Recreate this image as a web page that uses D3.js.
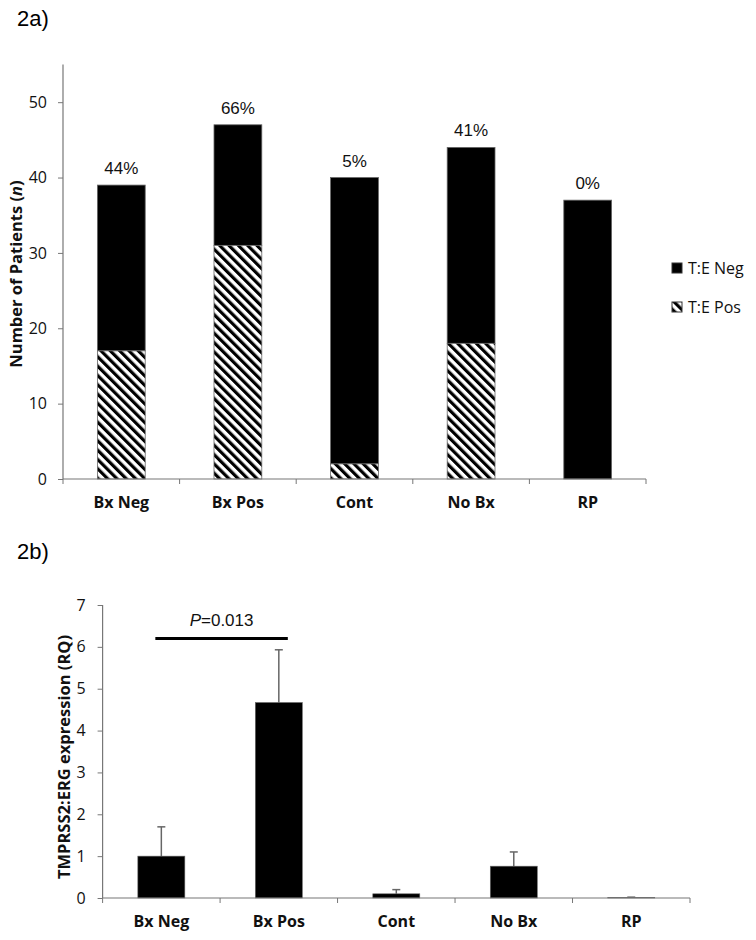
<!DOCTYPE html>
<html><head><meta charset="utf-8">
<script src="https://cdn.jsdelivr.net/npm/d3@7"></script>
<style>
body{margin:0;background:#fff;}
svg{display:block;}
.cal{font-family:"Open Sans","Liberation Sans",sans-serif;}
.ari{font-family:"Liberation Sans",Arial,sans-serif;}
</style></head>
<body><svg id="c" width="756" height="940"></svg>
<script>
// ---- data ----
const categories = ["Bx Neg","Bx Pos","Cont","No Bx","RP"];
const tePos = [17,31,2,18,0];
const teNeg = [22,16,38,26,37];
const pctLabels = ["44%","66%","5%","41%","0%"];
const topTicks = [0,10,20,30,40,50];
const rqMean = [1.0,4.67,0.1,0.76,0.01];
const rqErr = [0.7,1.26,0.1,0.34,0.01];
const bottomTicks = [0,1,2,3,4,5,6,7];
const pValueText = "=0.013";
const pLineLevel = 6.2;

const svg = d3.select("#c");
const defs = svg.append("defs");
const pat = defs.append("pattern").attr("id","hatch").attr("patternUnits","userSpaceOnUse")
  .attr("width",6.6).attr("height",6.6).attr("patternTransform","rotate(-45)");
pat.append("rect").attr("width",6.6).attr("height",6.6).attr("fill","#fff");
pat.append("rect").attr("x",0).attr("y",0).attr("width",3.2).attr("height",6.6).attr("fill","#000");

const axisColor = "#777";

// ---------- Chart 2a ----------
svg.append("text").attr("class","ari").attr("x",17).attr("y",26).attr("font-size",22).text("2a)");

const x1 = d3.scaleBand().domain(categories).range([63,646]).paddingInner(0.59).paddingOuter(0.295);
const y1 = d3.scaleLinear().domain([0,55]).range([479,64.5]);

const g1 = svg.append("g");
const stackData = categories.map((c,i)=>({c,pos:tePos[i],neg:teNeg[i],pct:pctLabels[i]}));
g1.selectAll("rect.neg").data(stackData).join("rect").attr("class","neg")
  .attr("x",d=>x1(d.c)).attr("width",x1.bandwidth())
  .attr("y",d=>y1(d.pos+d.neg)).attr("height",d=>y1(d.pos)-y1(d.pos+d.neg))
  .attr("fill","#000").attr("stroke","#666").attr("stroke-width",0.8);
g1.selectAll("rect.pos").data(stackData.filter(d=>d.pos>0)).join("rect").attr("class","pos")
  .attr("x",d=>x1(d.c)).attr("width",x1.bandwidth())
  .attr("y",d=>y1(d.pos)).attr("height",d=>y1(0)-y1(d.pos))
  .attr("fill","url(#hatch)").attr("stroke","#666").attr("stroke-width",0.8);
g1.selectAll("text.pct").data(stackData).join("text").attr("class","pct ari")
  .attr("x",d=>x1(d.c)+x1.bandwidth()/2).attr("y",d=>y1(d.pos+d.neg)-11)
  .attr("text-anchor","middle").attr("font-size",17).attr("fill","#111").text(d=>d.pct);

const ax1 = g1.append("g").attr("transform","translate(63,0)")
  .call(d3.axisLeft(y1).tickValues(topTicks).tickSize(5).tickPadding(11));
const xb1 = g1.append("g").attr("transform","translate(0,479)")
  .call(d3.axisBottom(x1).tickSize(0).tickPadding(18));
const bounds1 = d3.range(categories.length+1).map(i=>63+i*(646-63)/categories.length);
g1.selectAll("line.bt").data(bounds1).join("line").attr("class","bt")
  .attr("x1",d=>d).attr("x2",d=>d).attr("y1",479).attr("y2",484).attr("stroke",axisColor);

[ax1,xb1].forEach(a=>{
  a.select(".domain").attr("stroke",axisColor).attr("stroke-width",1.2);
  a.selectAll(".tick line").attr("stroke",axisColor);
});
ax1.select(".domain").attr("d","M0,"+y1(55)+"V"+y1(0));
xb1.select(".domain").attr("d","M63,0H646");
ax1.selectAll(".tick text").attr("class","cal").attr("font-size",16).attr("fill","#111").attr("font-family",null);
xb1.selectAll(".tick text").attr("class","cal").attr("font-size",16).attr("font-weight","bold").attr("fill","#111").attr("font-family",null);

const yl1 = svg.append("text").attr("class","cal").attr("font-size",16.5).attr("font-weight","bold")
  .attr("transform","translate(22,274) rotate(-90)").attr("text-anchor","middle").attr("fill","#111");
yl1.append("tspan").text("Number of Patients (");
yl1.append("tspan").attr("font-style","italic").text("n");
yl1.append("tspan").text(")");

// legend
const legend = [{label:"T:E Neg",fill:"#000"},{label:"T:E Pos",fill:"url(#hatch)"}];
const lg = svg.append("g").selectAll("g").data(legend).join("g")
  .attr("transform",(d,i)=>`translate(672,${263+i*39})`);
lg.append("rect").attr("width",10).attr("height",10).attr("fill",d=>d.fill).attr("stroke","#333").attr("stroke-width",1);
lg.append("text").attr("class","cal").attr("x",16).attr("y",10.5).attr("font-size",16).attr("fill","#111").text(d=>d.label);

// ---------- Chart 2b ----------
svg.append("text").attr("class","ari").attr("x",17).attr("y",559).attr("font-size",22).text("2b)");

const x2 = d3.scaleBand().domain(categories).range([102.6,690]).paddingInner(0.6).paddingOuter(0.3);
const y2 = d3.scaleLinear().domain([0,7]).range([898,605]);
const g2 = svg.append("g");
const rqData = categories.map((c,i)=>({c,m:rqMean[i],e:rqErr[i]}));

const ec = "#666";
g2.selectAll("line.ev").data(rqData).join("line").attr("class","ev")
  .attr("x1",d=>x2(d.c)+x2.bandwidth()/2).attr("x2",d=>x2(d.c)+x2.bandwidth()/2)
  .attr("y1",d=>y2(d.m)).attr("y2",d=>y2(d.m+d.e)).attr("stroke",ec).attr("stroke-width",1.5);
g2.selectAll("line.ec").data(rqData).join("line").attr("class","ec")
  .attr("x1",d=>x2(d.c)+x2.bandwidth()/2-4).attr("x2",d=>x2(d.c)+x2.bandwidth()/2+4)
  .attr("y1",d=>y2(d.m+d.e)).attr("y2",d=>y2(d.m+d.e)).attr("stroke",ec).attr("stroke-width",1.5);
g2.selectAll("rect.b").data(rqData).join("rect").attr("class","b")
  .attr("x",d=>x2(d.c)).attr("width",x2.bandwidth())
  .attr("y",d=>y2(d.m)).attr("height",d=>y2(0)-y2(d.m))
  .attr("fill","#000").attr("stroke","#666").attr("stroke-width",0.6);

const ax2 = g2.append("g").attr("transform","translate(102.6,0)")
  .call(d3.axisLeft(y2).tickValues(bottomTicks).tickFormat(d3.format("d")).tickSize(5).tickPadding(12));
const xb2 = g2.append("g").attr("transform","translate(0,898)")
  .call(d3.axisBottom(x2).tickSize(0).tickPadding(18));
const bounds2 = d3.range(categories.length+1).map(i=>102.6+i*(690-102.6)/categories.length);
g2.selectAll("line.bt").data(bounds2).join("line").attr("class","bt")
  .attr("x1",d=>d).attr("x2",d=>d).attr("y1",898).attr("y2",903).attr("stroke",axisColor);
[ax2,xb2].forEach(a=>{
  a.select(".domain").attr("stroke",axisColor).attr("stroke-width",1.2);
  a.selectAll(".tick line").attr("stroke",axisColor);
});
ax2.select(".domain").attr("d","M0,"+y2(7)+"V"+y2(0));
xb2.select(".domain").attr("d","M102.6,0H690");
ax2.selectAll(".tick text").attr("class","cal").attr("font-size",16).attr("fill","#111").attr("font-family",null);
xb2.selectAll(".tick text").attr("class","cal").attr("font-size",16).attr("font-weight","bold").attr("fill","#111").attr("font-family",null);

svg.append("text").attr("class","cal").attr("font-size",16.5).attr("font-weight","bold")
  .attr("transform","translate(70,757) rotate(-90)").attr("text-anchor","middle").attr("fill","#111")
  .text("TMPRSS2:ERG expression (RQ)");

const pxa = x2(categories[0])+x2.bandwidth()/2 - 6;
const pxb = x2(categories[1])+x2.bandwidth()/2 + 9;
g2.append("line").attr("x1",pxa).attr("x2",pxb).attr("y1",y2(pLineLevel)).attr("y2",y2(pLineLevel))
  .attr("stroke","#000").attr("stroke-width",3);
const pt = g2.append("text").attr("class","ari").attr("x",(pxa+pxb)/2).attr("y",y2(pLineLevel)-12)
  .attr("text-anchor","middle").attr("font-size",17).attr("fill","#111");
pt.append("tspan").attr("font-style","italic").text("P");
pt.append("tspan").text(pValueText);
</script></body></html>
